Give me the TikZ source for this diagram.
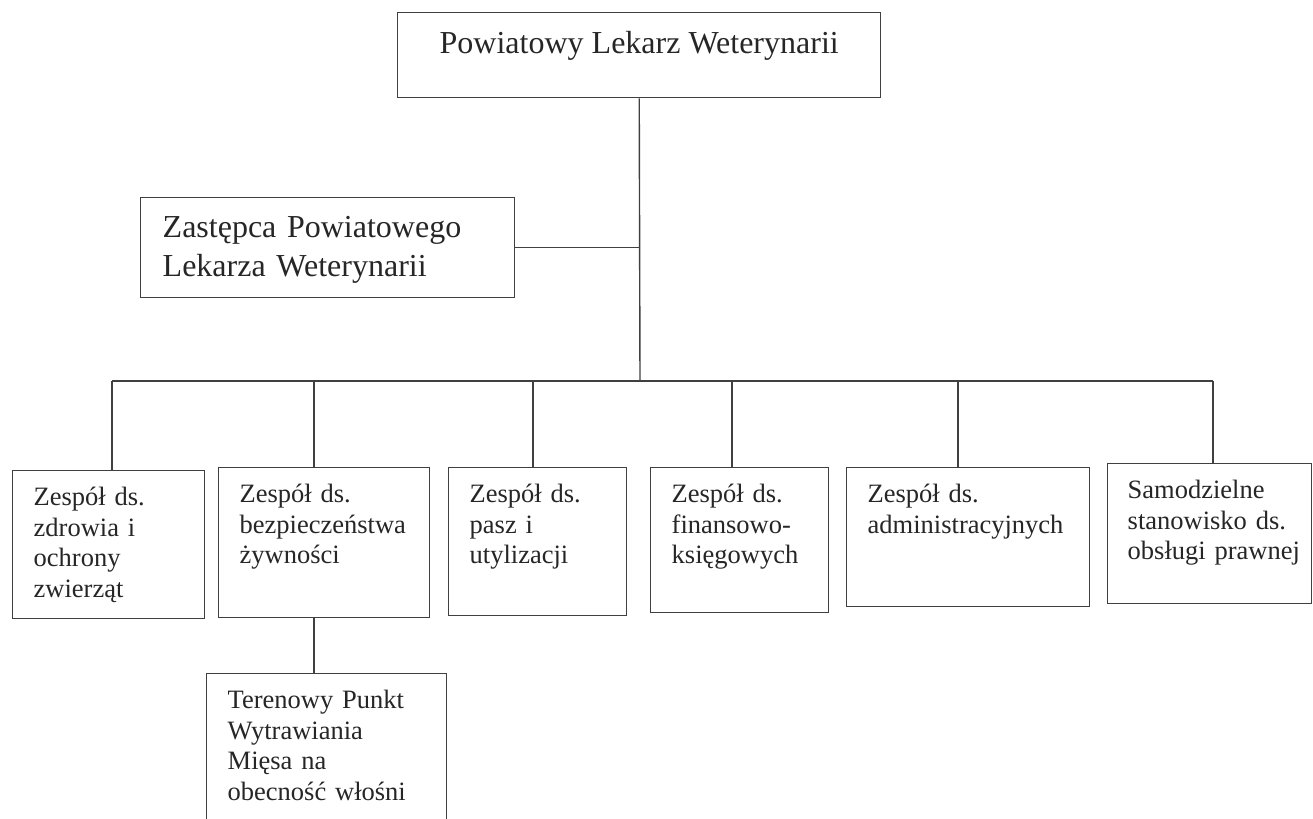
\documentclass[tikz,border=0pt]{standalone}
\usepackage{fontspec}
\setmainfont{Liberation Serif}
\usepackage{tikz}
\hyphenpenalty=10000
\exhyphenpenalty=10000

\begin{document}
\begin{tikzpicture}[x=0.5pt,y=-0.5pt,
	conn/.style={draw=black!75,line width=0.7pt},
	head/.style={conn,anchor=north west,inner ysep=0pt,text=black!85,font=\fontsize{16}{19.5}\selectfont},
	unit/.style={conn,anchor=north west,align=left,inner xsep=10.5pt,inner ysep=0pt,text height=17.5pt,text=black!85,font=\fontsize{13.25}{15.3}\selectfont}]
	
	\useasboundingbox (0,0) rectangle (1313,819);
	
	% Draw head boxes
	\node[head,inner xsep=21pt,text height=20.5pt,text depth=22pt] (plw) at (397,12) {Powiatowy Lekarz Weterynarii};
	\node[head,align=left,inner xsep=11pt,text width=165pt,text height=20pt,text depth=30pt] (zast) at (140,197) {Zastępca Powiatowego\\Lekarza Weterynarii};
	
	% Draw units
	\node[unit,text width=75pt,text depth=56.5pt] (zdrowia) at (12,470) {Zespół~ds.\\zdrowia~i\\ochrony\\zwierząt};
	\node[unit,text width=84.5pt,text depth=57.5pt] (bezp) at (218,467) {Zespół~ds.\\bezpieczeństwa\\żywności};
	\node[unit,text width=68pt,text depth=56.5pt] (pasz) at (448,467) {Zespół~ds.\\pasz~i\\utylizacji};
	\node[unit,text width=68pt,text depth=55pt] (finanse) at (650,467) {Zespół~ds.\\finansowo-\\księgowych};
	\node[unit,text width=100.5pt,text depth=52pt] (admin) at (846,467) {Zespół~ds.\\administracyjnych};
	\node[unit,inner xsep=10pt,text width=82pt,text depth=52.5pt] (prawna) at (1107,463) {Samodzielne\\stanowisko~ds.\\obsługi~prawnej};
	\node[unit,text width=99pt,text depth=62.5pt] (teren) at (206,673) {Terenowy~Punkt\\Wytrawiania\\Mięsa~na\\obecność~włośni};
	
	% Draw main line
	\coordinate (bus) at (640,381);
	\draw[conn] (plw.south) -- (bus);
	\draw[conn] (zast.east) -- (zast.east -| plw.south);
	
	% Draw bus and drops
	\foreach \name/\x in {zdrowia/112,bezp/314,pasz/533,finanse/732,admin/958,prawna/1213}
	{
		\coordinate (j-\name) at (\x,381);
		\draw[conn] (j-\name) -- (j-\name |- \name.north);
	}
	\draw[conn] (j-zdrowia) -- (j-prawna);
	\draw[conn] (j-bezp |- bezp.south) -- (j-bezp |- teren.north);
	
\end{tikzpicture}
\end{document}
